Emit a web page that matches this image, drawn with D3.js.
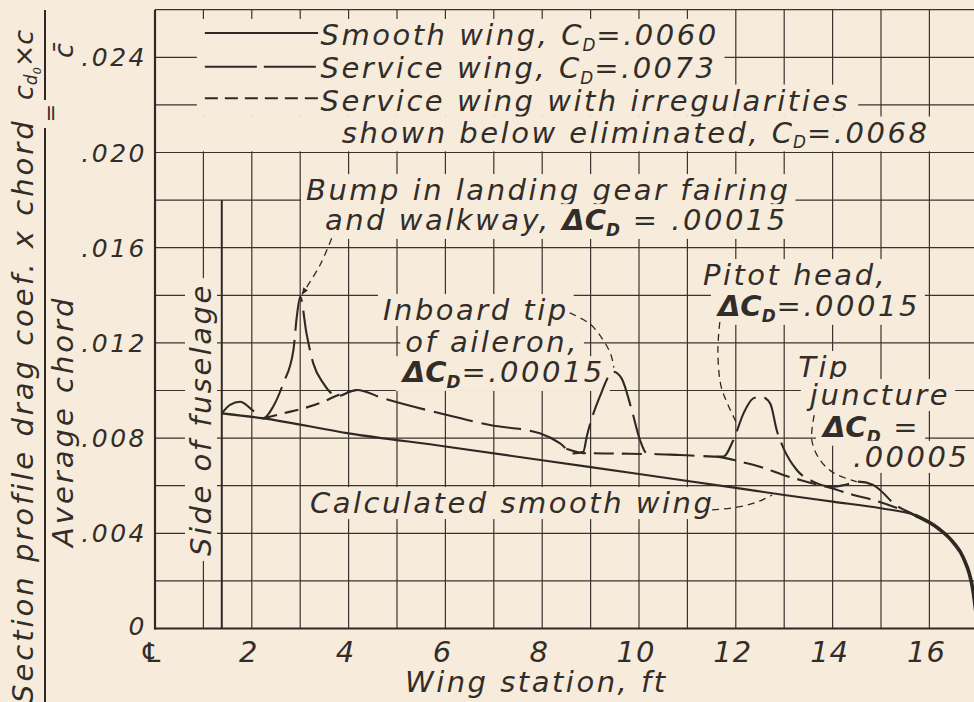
<!DOCTYPE html>
<html><head><meta charset="utf-8">
<script src="https://cdn.jsdelivr.net/npm/d3@7"></script>
<style>
html,body{margin:0;padding:0;background:#f7ecdb;overflow:hidden;}
svg{display:block;}
text{font-family:"DejaVu Sans",sans-serif;font-style:oblique;fill:#332d29;}
</style></head><body>
<svg id="chart" width="974" height="702"></svg>
<script>
// ---------------- data ----------------
const xTickValues = [0, 2, 4, 6, 8, 10, 12, 14, 16];
const xTickLabels = ["\u2104", "2", "4", "6", "8", "10", "12", "14", "16"];
const yTickValues = [0, 0.004, 0.008, 0.012, 0.016, 0.020, 0.024];
const yTickLabels = ["0", ".004", ".008", ".012", ".016", ".020", ".024"];

// Smooth wing (solid)
const smoothX  = [1.38, 2.24, 4.0, 6.0, 8.0, 10.0, 12.0, 13.0, 14.0, 15.0, 15.7, 16.2, 16.5, 16.7, 16.9, 17.0];
const smoothCd = [0.00904, 0.00883, 0.0082, 0.00765, 0.00707, 0.00649, 0.00591, 0.00561, 0.00533, 0.00505, 0.00476, 0.00418, 0.0036, 0.00298, 0.0016, 0.0];

// Service wing (long dash)
const serviceX  = [1.38, 1.55, 1.76, 2.0, 2.24, 2.44, 2.65, 2.86, 2.93, 3.0, 3.13, 3.27, 3.48, 3.65, 3.82, 4.0, 4.17, 4.72, 5.89, 6.92,
                   7.95, 8.37, 8.64, 8.85, 8.92, 9.19, 9.47, 9.64, 9.85, 10.02, 10.16, 10.85, 11.74, 11.95, 12.16, 12.36, 12.53, 12.71, 12.85, 12.98,
                   13.26, 13.6, 13.98, 14.25, 14.53, 14.84, 14.98, 15.26, 15.7, 16.2, 16.5, 16.7, 16.9, 17.0];
const serviceCd = [0.00904, 0.0094, 0.00953, 0.0092, 0.00883, 0.00932, 0.0103, 0.0117, 0.0131, 0.01394, 0.0124, 0.01114, 0.0103, 0.00988, 0.00978, 0.00993, 0.01002, 0.00967, 0.00904, 0.00855,
                   0.0082, 0.00778, 0.00736, 0.00743, 0.00806, 0.00974, 0.01079, 0.01051, 0.00918, 0.00792, 0.00736, 0.00729, 0.00722, 0.00792, 0.00904, 0.00967, 0.00974, 0.00946, 0.0083, 0.0076,
                   0.00666, 0.00617, 0.00596, 0.00603, 0.00617, 0.00603, 0.00582, 0.00526, 0.00476, 0.00418, 0.0036, 0.00298, 0.0016, 0.0];

// Service wing with irregularities eliminated (short dash) - parts that differ from the service wing
const elimInX   = [2.24, 2.65, 3.07, 3.48, 3.82, 4.17];
const elimInCd  = [0.00883, 0.00904, 0.00925, 0.00953, 0.00984, 0.01002];
const elimMidX  = [8.5, 8.85, 9.5, 10.2];
const elimMidCd = [0.00755, 0.00737, 0.00735, 0.00733];
const elimOutX  = [11.6, 11.74, 12.09, 12.5, 12.98, 13.46, 13.98, 14.43, 14.84, 15.26, 15.7];
const elimOutCd = [0.00722, 0.00718, 0.00701, 0.0068, 0.00645, 0.00617, 0.00589, 0.00561, 0.0054, 0.00512, 0.00476];

// leader lines (wing station, cd)
const leaderBumpX = [3.65, 3.41, 3.04],        leaderBumpCd = [0.0164, 0.01527, 0.01405];
const leaderAilX  = [8.57, 8.99, 9.26, 9.42, 9.48], leaderAilCd = [0.01326, 0.01279, 0.01212, 0.0115, 0.01096];
const leaderPitX  = [11.67, 11.63, 11.69, 11.84, 12.02], leaderPitCd = [0.01288, 0.0117, 0.01023, 0.00939, 0.00862];
const leaderTipX  = [13.62, 13.57, 13.74, 14.03, 14.5], leaderTipCd = [0.00897, 0.00792, 0.00708, 0.00653, 0.00616];
const leaderCalcX = [11.51, 12.09, 12.5, 12.75], leaderCalcCd = [0.00498, 0.00512, 0.00536, 0.00561];

// legend
const legendLabels = ["Smooth wing, C_D=.0060", "Service wing, C_D=.0073", "Service wing with irregularities", "shown below eliminated, C_D=.0068"];

// annotation texts
const notes = [
  {text: "Bump in landing gear fairing", at: [3.12, 0.0180]},
  {text: "and walkway, \u0394C_D = .00015", at: [3.51, 0.01674]},
  {text: "Inboard tip", at: [4.71, 0.01296]},
  {text: "of aileron,", at: [5.17, 0.01162]},
  {text: "\u0394C_D=.00015", at: [5.12, 0.01035]},
  {text: "Pitot head,", at: [11.32, 0.01443]},
  {text: "\u0394C_D=.00015", at: [11.63, 0.01313]},
  {text: "Tip", at: [13.29, 0.01057]},
  {text: "juncture", at: [13.53, 0.00939]},
  {text: "\u0394C_D =", at: [13.80, 0.00805]},
  {text: ".00005", at: [14.42, 0.00679]},
  {text: "Calculated smooth wing", at: [3.2, 0.00485]},
  {text: "Side of fuselage", at: [1.157, 0.00305], rotate: -90}
];

// ---------------- drawing ----------------
const W = 974, H = 702;
const ink = "#2f2925";
const paper = "#f7ecdb";
const FS = 29, LS = 2.5;

const svg = d3.select("#chart");
svg.append("rect").attr("width", W).attr("height", H).attr("fill", paper);

const x = d3.scaleLinear().domain([0, 17]).range([155, 977.8]);
const y = d3.scaleLinear().domain([0, 0.026]).range([628.5, 9.7]);

// grid
const gGrid = svg.append("g").attr("stroke", "#3a332e").attr("stroke-width", 1.2);
gGrid.selectAll("line.v").data(d3.range(1, 18)).join("line")
  .attr("x1", d => x(d)).attr("x2", d => x(d)).attr("y1", y(0)).attr("y2", y(0.026));
gGrid.selectAll("line.h").data(d3.range(1, 14).map(i => i * 0.002)).join("line")
  .attr("x1", x(0)).attr("x2", x(17)).attr("y1", d => y(d)).attr("y2", d => y(d));

function rich(sel, str, fs) {
  const parts = str.split(/(\u0394C_D|C_D)/).filter(p => p.length);
  let pending = 0;
  parts.forEach(p => {
    if (p === "\u0394C_D" || p === "C_D") {
      const bold = p[0] === "\u0394";
      const t1 = sel.append("tspan").text(bold ? "\u0394C" : "C").attr("letter-spacing", bold ? 0 : 1);
      if (bold) t1.attr("font-weight", "bold");
      if (pending) { t1.attr("dy", pending); pending = 0; }
      const t2 = sel.append("tspan").text("D").attr("font-size", fs * 0.58).attr("dy", fs * 0.2).attr("letter-spacing", 1);
      if (bold) t2.attr("font-weight", "bold");
      pending = -fs * 0.2;
    } else {
      const t = sel.append("tspan").text(p);
      if (pending) { t.attr("dy", pending); pending = 0; }
    }
  });
}

// annotation layer (background boxes hide the grid)
const gNotes = svg.append("g");
notes.forEach(n => {
  const g = gNotes.append("g")
    .attr("transform", `translate(${x(n.at[0])},${y(n.at[1])})` + (n.rotate ? ` rotate(${n.rotate})` : ""));
  const r = g.append("rect").attr("fill", paper);
  const t = g.append("text").attr("font-size", FS).attr("letter-spacing", LS);
  rich(t, n.text, FS);
  const bb = t.node().getBBox();
  r.attr("x", bb.x - 5).attr("y", bb.y + 1).attr("width", bb.width + 10).attr("height", bb.height - 2);
});

// legend
const legStyles = ["none", "52,7", "13,7", null];
const legLineCd = [0.02502, 0.0236, 0.02228, null];
const legTextCd = [0.02452, 0.02311, 0.02176, 0.02042];
const gLeg = svg.append("g");
legendLabels.forEach((lab, i) => {
  const g = gLeg.append("g");
  const r = g.append("rect").attr("fill", paper);
  const tx = i < 3 ? x(3.42) : x(3.86);
  const t = g.append("text").attr("x", tx).attr("y", y(legTextCd[i])).attr("font-size", FS).attr("letter-spacing", LS);
  rich(t, lab, FS);
  const bb = t.node().getBBox();
  const left = x(1.03) - 8;
  r.attr("x", left).attr("y", bb.y + 1).attr("width", bb.x + bb.width + 8 - left).attr("height", bb.height - 2);
  if (legLineCd[i] !== null) {
    g.append("line").attr("x1", x(1.03)).attr("x2", x(3.37)).attr("y1", y(legLineCd[i])).attr("y2", y(legLineCd[i]))
      .attr("stroke", ink).attr("stroke-width", 2).attr("stroke-dasharray", legStyles[i]);
  }
});

// side of fuselage line
svg.append("line").attr("x1", x(1.38)).attr("x2", x(1.38)).attr("y1", y(0)).attr("y2", y(0.018))
  .attr("stroke", ink).attr("stroke-width", 2);

// curves
const line = d3.line().x(d => x(d[0])).y(d => y(d[1])).curve(d3.curveMonotoneX);
const zip = (a, b) => a.map((v, i) => [v, b[i]]);
const gCurves = svg.append("g").attr("fill", "none").attr("stroke", ink).attr("stroke-linecap", "butt");
gCurves.append("path").attr("d", line(zip(smoothX, smoothCd))).attr("stroke-width", 2.1);
gCurves.append("path").attr("d", line(zip(serviceX, serviceCd))).attr("stroke-width", 2.1).attr("stroke-dasharray", "40,9");
gCurves.append("path").attr("d", line(zip(elimInX, elimInCd))).attr("stroke-width", 2.1).attr("stroke-dasharray", "14,8");
gCurves.append("path").attr("d", line(zip(elimMidX, elimMidCd))).attr("stroke-width", 2.1).attr("stroke-dasharray", "20,8");
gCurves.append("path").attr("d", line(zip(elimOutX, elimOutCd))).attr("stroke-width", 2.1).attr("stroke-dasharray", "20,8");
// thick tip drop
gCurves.append("path").attr("d", line(zip(smoothX.slice(-6), smoothCd.slice(-6)))).attr("stroke-width", 3.6);

// leaders
svg.append("defs").append("marker").attr("id", "arr").attr("viewBox", "0 0 10 10").attr("refX", 9).attr("refY", 5)
  .attr("markerWidth", 7).attr("markerHeight", 7).attr("orient", "auto").attr("markerUnits", "userSpaceOnUse")
  .append("path").attr("d", "M0,1L10,5L0,9Z").attr("fill", ink);
const leadLine = d3.line().x(d => x(d[0])).y(d => y(d[1])).curve(d3.curveCatmullRom);
const gLead = svg.append("g").attr("fill", "none").attr("stroke", ink).attr("stroke-width", 1.3).attr("stroke-dasharray", "7,5");
gLead.append("path").attr("d", leadLine(zip(leaderBumpX, leaderBumpCd))).attr("marker-end", "url(#arr)");
gLead.append("path").attr("d", leadLine(zip(leaderAilX, leaderAilCd)));
gLead.append("path").attr("d", leadLine(zip(leaderPitX, leaderPitCd)));
gLead.append("path").attr("d", leadLine(zip(leaderTipX, leaderTipCd)));
gLead.append("path").attr("d", leadLine(zip(leaderCalcX, leaderCalcCd)));

// axes lines
svg.append("line").attr("x1", x(0)).attr("x2", x(0)).attr("y1", y(0) + 1).attr("y2", y(0.026)).attr("stroke", ink).attr("stroke-width", 2.2);
svg.append("line").attr("x1", x(0) - 1).attr("x2", x(17)).attr("y1", y(0)).attr("y2", y(0)).attr("stroke", ink).attr("stroke-width", 2.2);

// tick labels
svg.append("g").selectAll("text").data(yTickValues).join("text")
  .attr("x", x(0) - 8).attr("y", d => y(d)).attr("dy", d => d === 0 ? "0.25em" : "0.36em").attr("text-anchor", "end")
  .attr("font-size", 25).attr("letter-spacing", 2.5).text((d, i) => yTickLabels[i]);
svg.append("g").selectAll("text").data(xTickValues).join("text")
  .attr("x", d => x(d) - 3).attr("y", y(0) + 33).attr("text-anchor", "middle")
  .attr("font-size", (d, i) => i === 0 ? 27 : FS).attr("letter-spacing", 1).text((d, i) => xTickLabels[i]);

// axis titles
svg.append("text").attr("x", 405).attr("y", 692).attr("font-size", FS).attr("letter-spacing", LS).text("Wing station, ft");

const yt = svg.append("g");
yt.append("text").attr("transform", "translate(33,703) rotate(-90)").attr("font-size", FS).attr("letter-spacing", 3)
  .text("Section profile drag coef. x chord");
yt.append("line").attr("x1", 45).attr("x2", 45).attr("y1", 128).attr("y2", 702).attr("stroke", ink).attr("stroke-width", 2);
yt.append("line").attr("x1", 45).attr("x2", 45).attr("y1", 10).attr("y2", 100).attr("stroke", ink).attr("stroke-width", 2);
yt.append("text").attr("transform", "translate(73,547) rotate(-90)").attr("font-size", FS).attr("letter-spacing", 3)
  .text("Average chord");
yt.append("text").attr("transform", "translate(58,113) rotate(-90)").attr("font-size", 22).attr("text-anchor", "middle").text("=");
const cd0 = yt.append("text").attr("transform", "translate(33,100) rotate(-90)").attr("font-size", 27);
cd0.append("tspan").text("c");
cd0.append("tspan").text("d").attr("font-size", 17).attr("dy", 4);
cd0.append("tspan").text("0").attr("font-size", 11).attr("dy", 4);
cd0.append("tspan").text("\u00d7c").attr("dy", -8);
yt.append("text").attr("transform", "translate(73,58) rotate(-90)").attr("font-size", 27).text("c\u0304");
</script>
</body></html>
